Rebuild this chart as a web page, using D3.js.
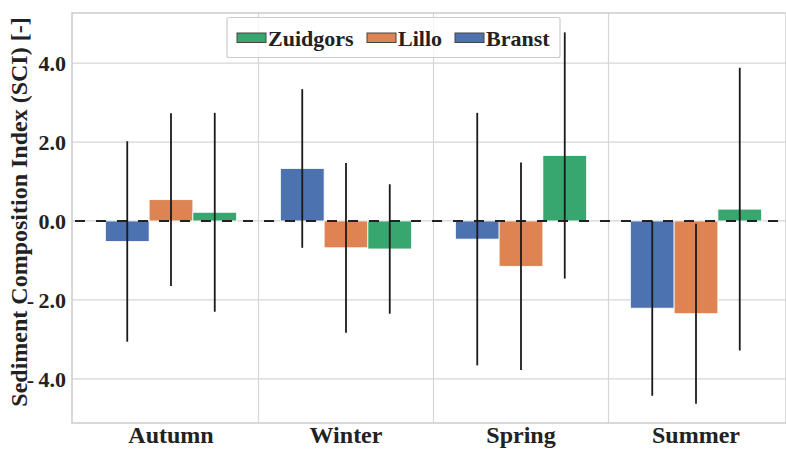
<!DOCTYPE html>
<html>
<head>
<meta charset="utf-8">
<script src="https://cdn.jsdelivr.net/npm/d3@7"></script>
<style>
  html, body { margin: 0; padding: 0; background: #fff; }
  svg { display: block; }
  text { font-family: "Liberation Serif", "Times New Roman", serif; font-weight: bold; fill: #222; }
</style>
</head>
<body>
<svg id="chart" width="786" height="449"></svg>
<script>
// ---- data ----
const seasons = ["Autumn", "Winter", "Spring", "Summer"];
const seriesNames = ["Branst", "Lillo", "Zuidgors"];
const legendOrder = ["Zuidgors", "Lillo", "Branst"];
const branstMean = [-0.52, 1.33, -0.46, -2.21];
const branstSd   = [2.54, 2.01, 3.20, 2.22];
const lilloMean  = [0.54, -0.68, -1.15, -2.35];
const lilloSd    = [2.19, 2.15, 2.63, 2.28];
const zuidMean   = [0.22, -0.71, 1.66, 0.30];
const zuidSd     = [2.52, 1.64, 3.12, 3.58];
const yTicks = [-4, -2, 0, 2, 4];
const colors = { Branst: "#4c72b0", Lillo: "#dd8452", Zuidgors: "#37a76f" };

const means = { Branst: branstMean, Lillo: lilloMean, Zuidgors: zuidMean };
const sds = { Branst: branstSd, Lillo: lilloSd, Zuidgors: zuidSd };

const svg = d3.select("#chart");
const plot = { left: 72, right: 786, top: 13, bottom: 423 };

const y = d3.scaleLinear().domain([-5.12, 5.27]).range([plot.bottom, plot.top]);
const x0 = d3.scaleBand().domain(seasons).range([83.5, 783.5]);
const x1 = d3.scaleBand().domain(seriesNames).range([x0.bandwidth() * 0.125, x0.bandwidth() * 0.875]);

// gridlines
const grid = svg.append("g");
grid.selectAll("line.h").data(yTicks).join("line")
  .attr("x1", plot.left).attr("x2", plot.right)
  .attr("y1", d => y(d)).attr("y2", d => y(d))
  .attr("stroke", "#d6d6d6").attr("stroke-width", 1.2);
grid.selectAll("line.v").data(seasons.slice(1)).join("line")
  .attr("x1", d => x0(d)).attr("x2", d => x0(d))
  .attr("y1", plot.top).attr("y2", plot.bottom)
  .attr("stroke", "#d6d6d6").attr("stroke-width", 1.2);

// bars
const rows = [];
seasons.forEach((s, i) => seriesNames.forEach(n => rows.push({ season: s, name: n, mean: means[n][i], sd: sds[n][i] })));

svg.append("g").selectAll("rect").data(rows).join("rect")
  .attr("x", d => x0(d.season) + x1(d.name))
  .attr("width", x1.bandwidth())
  .attr("y", d => y(Math.max(0, d.mean)))
  .attr("height", d => Math.abs(y(d.mean) - y(0)))
  .attr("fill", d => colors[d.name])
  .attr("stroke", "#fff").attr("stroke-width", 0.8);

// zero dashed line
svg.append("line")
  .attr("x1", plot.left).attr("x2", plot.right)
  .attr("y1", y(0)).attr("y2", y(0))
  .attr("stroke", "#222").attr("stroke-width", 2)
  .attr("stroke-dasharray", "10,11").attr("stroke-dashoffset", -3);

// error bars
svg.append("g").selectAll("line").data(rows).join("line")
  .attr("x1", d => x0(d.season) + x1(d.name) + x1.bandwidth() / 2)
  .attr("x2", d => x0(d.season) + x1(d.name) + x1.bandwidth() / 2)
  .attr("y1", d => y(d.mean + d.sd))
  .attr("y2", d => y(d.mean - d.sd))
  .attr("stroke", "#1a1a1a").attr("stroke-width", 1.8);

// frame
svg.append("rect")
  .attr("x", plot.left).attr("y", plot.top)
  .attr("width", plot.right - plot.left).attr("height", plot.bottom - plot.top)
  .attr("fill", "none").attr("stroke", "#cccccc").attr("stroke-width", 1.5);

// y label
svg.append("text")
  .attr("transform", `translate(27, ${(plot.top + plot.bottom) / 2 - 6}) rotate(-90)`)
  .attr("text-anchor", "middle")
  .style("font-size", "24px")
  .text("Sediment Composition Index (SCI) [-]");

// y ticks (drawn after label so the minus sits on top)
const fmt = d => (d < 0 ? "-\u2009" + d3.format(".1f")(-d) : d3.format(".1f")(d));
svg.append("g").selectAll("text").data(yTicks).join("text")
  .attr("x", 66).attr("y", d => y(d))
  .attr("dy", "0.36em")
  .attr("text-anchor", "end")
  .style("font-size", "22px")
  .text(fmt);

// x labels
svg.append("g").selectAll("text").data(seasons).join("text")
  .attr("x", d => x0(d) + x0.bandwidth() / 2)
  .attr("y", 443)
  .attr("text-anchor", "middle")
  .style("font-size", "24px")
  .text(d => d);

// legend
const lg = svg.append("g");
lg.append("rect")
  .attr("x", 227).attr("y", 17.5).attr("width", 333).attr("height", 40)
  .attr("rx", 2).attr("fill", "#fff").attr("fill-opacity", 0.8)
  .attr("stroke", "#cccccc").attr("stroke-width", 1.2);
const lgX = { Zuidgors: 237, Lillo: 367, Branst: 455 };
const items = lg.selectAll("g.item").data(legendOrder).join("g");
items.append("rect")
  .attr("x", d => lgX[d]).attr("y", 33).attr("width", 29).attr("height", 9.5)
  .attr("fill", d => colors[d]).attr("stroke", "#444").attr("stroke-width", 1);
items.append("text")
  .attr("x", d => lgX[d] + 31).attr("y", 45.5)
  .style("font-size", "22px")
  .text(d => d);
</script>
</body>
</html>
